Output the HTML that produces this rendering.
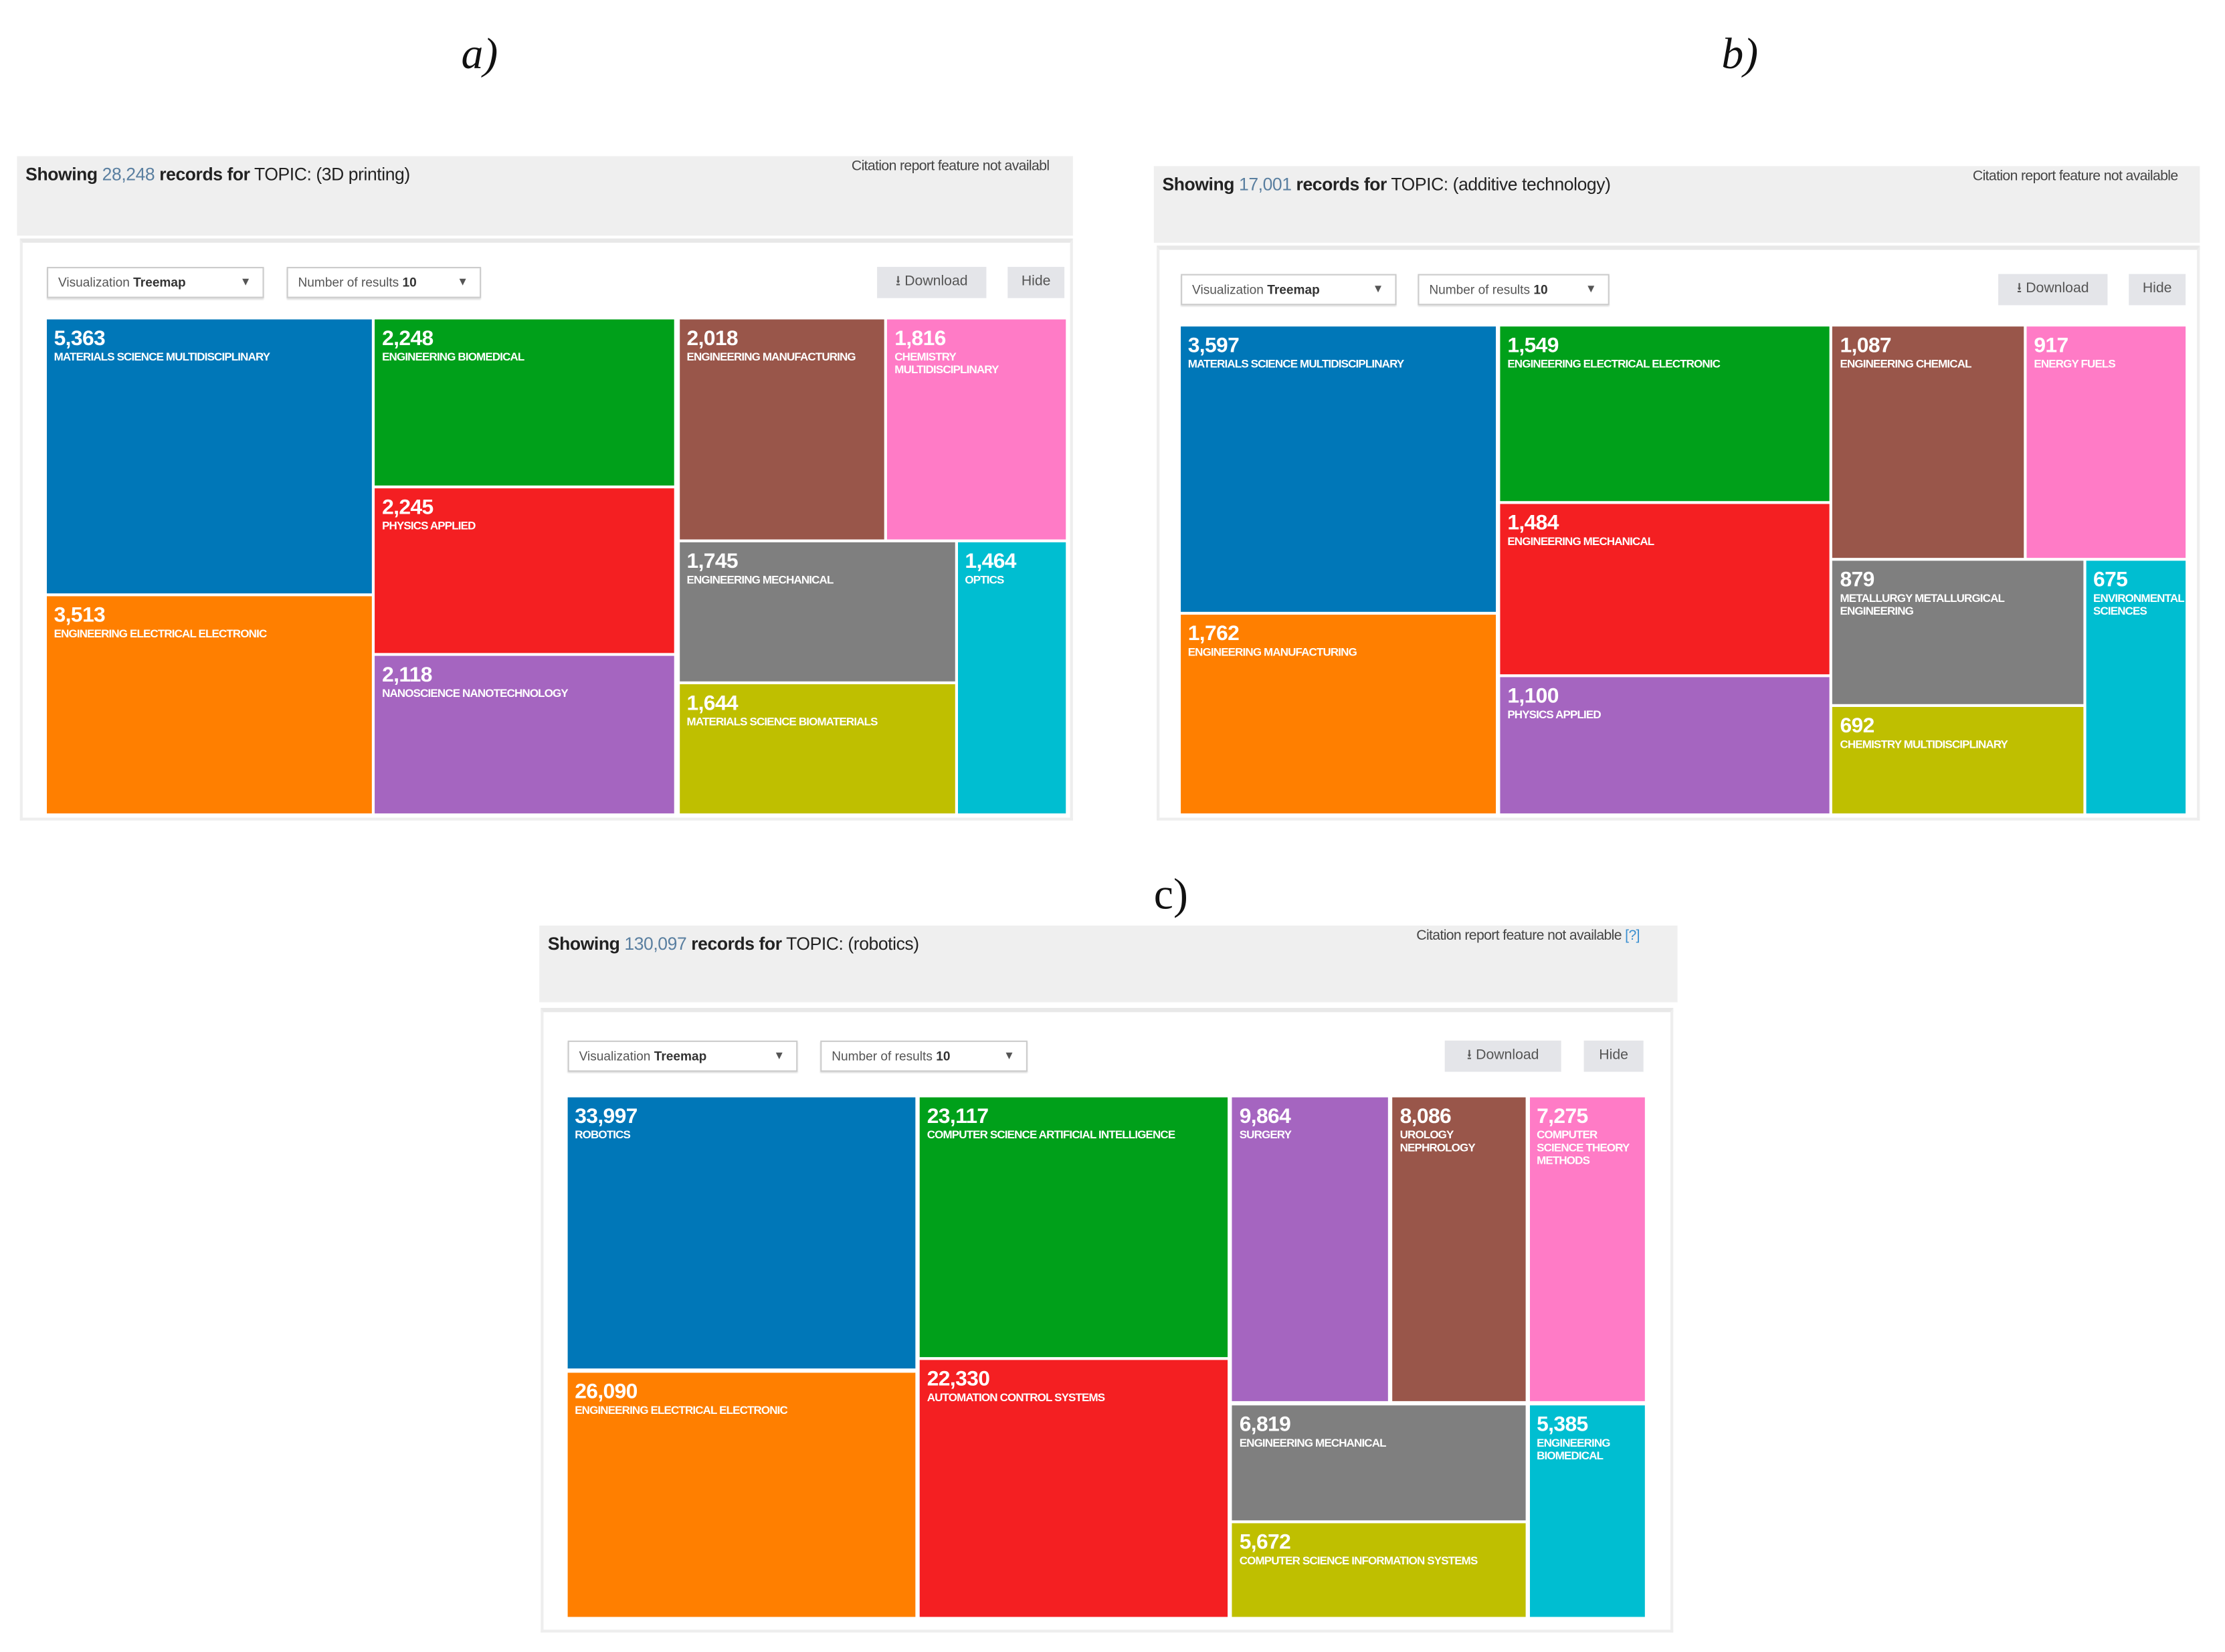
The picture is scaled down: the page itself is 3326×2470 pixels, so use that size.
<!DOCTYPE html>
<html><head><meta charset="utf-8">
<style>
html,body{margin:0;padding:0;background:#fff;}
body{width:3326px;height:2470px;overflow:hidden;position:relative;}
#stage{position:absolute;left:0;top:0;width:1560px;height:1158px;transform-origin:0 0;transform:scale(2.1215,2.1225);font-family:"Liberation Sans",sans-serif;}
.abs{position:absolute;box-sizing:border-box;}
.plabel{font-family:"Liberation Serif",serif;font-style:italic;font-size:31px;color:#111;}
.hdr{background:#efefef;}
.title{font-size:12.5px;color:#222;white-space:nowrap;letter-spacing:-0.2px;}
.title b{font-weight:bold;}
.title .num{color:#5a7fa0;}
.cite{font-size:10px;color:#444;white-space:nowrap;letter-spacing:-0.3px;}
.panel{border:2px solid #eee;border-top:3px solid #e8e8e8;background:#fff;}
.dd{border:1px solid #ccc;background:#fff;font-size:9px;color:#555;padding:5px 7px;white-space:nowrap;box-shadow:0 1px 1px #ddd;}
.dd b{color:#333;}
.dd .car{position:absolute;right:8px;top:5px;font-size:8px;color:#555;}
.btn{background:#e4e5e9;font-size:10px;color:#555;text-align:center;line-height:22px;white-space:nowrap;}
.cell{overflow:hidden;color:#fff;padding:6px 5px;}
.cell .v{font-size:15px;font-weight:bold;letter-spacing:-0.3px;line-height:16px;}
.cell .l{font-size:8px;font-weight:bold;letter-spacing:-0.4px;line-height:9px;text-transform:uppercase;}
</style></head>
<body>
<div id="stage"></div>
<script>
// ---- data ----
const catsA = ["MATERIALS SCIENCE MULTIDISCIPLINARY","ENGINEERING ELECTRICAL ELECTRONIC","ENGINEERING BIOMEDICAL","PHYSICS APPLIED","NANOSCIENCE NANOTECHNOLOGY","ENGINEERING MANUFACTURING","CHEMISTRY MULTIDISCIPLINARY","ENGINEERING MECHANICAL","MATERIALS SCIENCE BIOMATERIALS","OPTICS"];
const valsA = [5363,3513,2248,2245,2118,2018,1816,1745,1644,1464];
const catsB = ["MATERIALS SCIENCE MULTIDISCIPLINARY","ENGINEERING MANUFACTURING","ENGINEERING ELECTRICAL ELECTRONIC","ENGINEERING MECHANICAL","PHYSICS APPLIED","ENGINEERING CHEMICAL","ENERGY FUELS","METALLURGY METALLURGICAL ENGINEERING","CHEMISTRY MULTIDISCIPLINARY","ENVIRONMENTAL SCIENCES"];
const valsB = [3597,1762,1549,1484,1100,1087,917,879,692,675];
const catsC = ["ROBOTICS","ENGINEERING ELECTRICAL ELECTRONIC","COMPUTER SCIENCE ARTIFICIAL INTELLIGENCE","AUTOMATION CONTROL SYSTEMS","SURGERY","UROLOGY NEPHROLOGY","COMPUTER SCIENCE THEORY METHODS","ENGINEERING MECHANICAL","COMPUTER SCIENCE INFORMATION SYSTEMS","ENGINEERING BIOMEDICAL"];
const valsC = [33997,26090,23117,22330,9864,8086,7275,6819,5672,5385];
const totals = ["28,248","17,001","130,097"];
const topics = ["3D printing","additive technology","robotics"];

// ---- layout (treemap tiling as fractions of the map area, not data) ----
const colors = ["#0077b8","#ff7f00","#00a01a","#f41f22","#a565c0","#99564a","#ff7bc6","#7f7f7f","#bfbf00","#00bed1"];
const tilesA = [[0,0,.319,.555],[0,.561,.319,1],[.322,0,.616,.336],[.322,.342,.616,.675],[.322,.681,.616,1],[.621,0,.822,.445],[.825,0,1,.445],[.621,.451,.891,.733],[.621,.739,.891,1],[.894,.451,1,1]];
const tilesB = [[0,0,.314,.587],[0,.593,.314,1],[.318,0,.646,.359],[.318,.365,.646,.715],[.318,.721,.646,1],[.649,0,.839,.474],[.842,0,1,.474],[.649,.48,.898,.775],[.649,.781,.898,1],[.901,.48,1,1]];
const tilesC = [[0,0,.323,.522],[0,.53,.323,1],[.327,0,.613,.5],[.327,.505,.613,1],[.617,0,.762,.585],[.766,0,.889,.585],[.893,0,1,.585],[.617,.593,.889,.814],[.617,.82,.889,1],[.893,.593,1,1]];

const panels = [
 {cats:catsA,vals:valsA,tiles:tilesA,label:"a)",ital:true,lx:325,ly:20,hx:12,hy:110,hw:744,hh:56,px:14,py:168,pw:742,ph:410,dd1:[33,188,153],dd2:[202,188,137],dl:[618,188,77],hide:[710,188,40],map:[33,225,718,348],cite:"Citation report feature not availabl",cx:600,cy:112},
 {cats:catsB,vals:valsB,tiles:tilesB,label:"b)",ital:true,lx:1213,ly:20,hx:813,hy:117,hw:737,hh:54,px:815,py:173,pw:735,ph:405,dd1:[832,193,152],dd2:[999,193,135],dl:[1408,193,77],hide:[1500,193,40],map:[832,230,708,343],cite:"Citation report feature not available",cx:1390,cy:119},
 {cats:catsC,vals:valsC,tiles:tilesC,label:"c)",ital:false,lx:813,ly:612,hx:380,hy:652,hw:802,hh:54,px:381,py:710,pw:798,ph:440,dd1:[400,733,162],dd2:[578,733,146],dl:[1018,733,82],hide:[1116,733,42],map:[400,773,759,366],cite:"Citation report feature not available <span style='color:#3a8fd0'>[?]</span>",cx:998,cy:654}
];
const stage = document.getElementById('stage');
function mk(cls, x, y, w, h, html){
  const d = document.createElement('div');
  d.className = 'abs ' + cls;
  d.style.left = x + 'px'; d.style.top = y + 'px';
  if (w != null) d.style.width = w + 'px';
  if (h != null) d.style.height = h + 'px';
  if (html != null) d.innerHTML = html;
  stage.appendChild(d);
  return d;
}
const fmt = v => v.toLocaleString('en-US');
const xs = (m, f) => m[0] + f * m[2];
const ys = (m, f) => m[1] + f * m[3];
panels.forEach((p, i) => {
  let e;
  e = mk('plabel', p.lx, p.ly, null, null, p.label);
  if (!p.ital) e.style.fontStyle = 'normal';
  
  
  e = mk('hdr', p.hx, p.hy, p.hw, p.hh, '');
  
  
  e = mk('title', p.hx + 6, p.hy + 6, null, null, '<b>Showing</b> <span class="num">' + totals[i] + '</span> <b>records for</b> TOPIC: (' + topics[i] + ')');
  
  
  e = mk('cite', p.cx, p.cy, null, null, p.cite);
  
  
  e = mk('panel', p.px, p.py, p.pw, p.ph, '');
  
  
  e = mk('dd', p.dd1[0], p.dd1[1], p.dd1[2], 22, 'Visualization <b>Treemap</b><span class="car">&#9660;</span>');
  
  
  e = mk('dd', p.dd2[0], p.dd2[1], p.dd2[2], 22, 'Number of results <b>10</b><span class="car">&#9660;</span>');
  
  
  e = mk('btn', p.dl[0], p.dl[1], p.dl[2], 22, '&#11123; Download');
  
  
  e = mk('btn', p.hide[0], p.hide[1], p.hide[2], 22, 'Hide');
  
  
  const m = p.map;
  p.cats.forEach((c, k) => {
    const t = p.tiles[k];
    const x0 = xs(m, t[0]), x1 = xs(m, t[2]), y0 = ys(m, t[1]), y1 = ys(m, t[3]);
    const cell = mk('cell', x0, y0, x1 - x0, y1 - y0, '<div class="v">' + fmt(p.vals[k]) + '</div><div class="l">' + c + '</div>');
    cell.style.background = colors[k];
    
    
  });
});
</script>
</body></html>
